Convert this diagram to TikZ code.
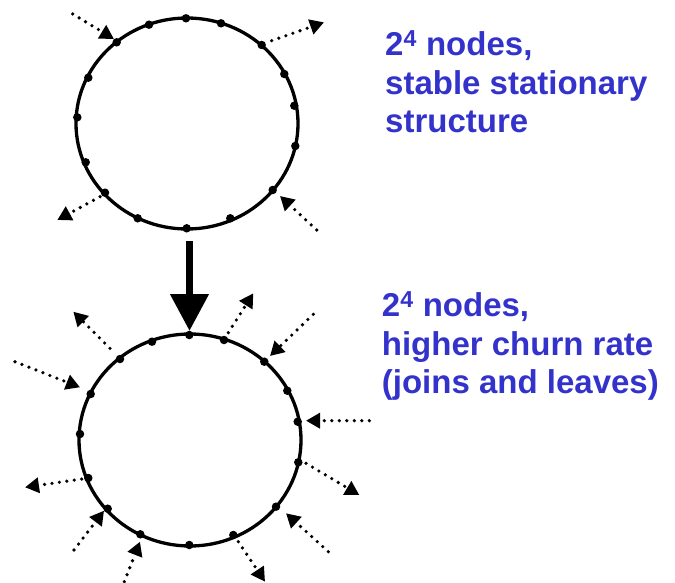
\documentclass[tikz,border=0pt]{standalone}
\usepackage{fontspec}
\setmainfont{Liberation Sans}
\usetikzlibrary{arrows.meta}
\definecolor{txtblue}{HTML}{3333CC}
\tikzset{
  ring/.style={line width=3.3pt},
  peer/.style={circle,fill=black,inner sep=0pt,minimum size=8.5pt},
  churn/.style={line width=3.6pt,line cap=round,dash pattern=on 0pt off 7.5pt,
    -{Triangle[length=14pt,width=15pt]}},
  bigarrow/.style={line width=7.6pt,-{Triangle[length=37pt,width=37pt]}},
  label/.style={anchor=base west,inner sep=0pt,text=txtblue,
    font=\fontsize{33}{38}\selectfont\bfseries}
}
\begin{document}
\begin{tikzpicture}[x=1pt,y=-1pt]
\useasboundingbox (0,0) rectangle (675,583);
% ---------- top ring ----------
\coordinate (ct) at (187,123.5);
\draw[ring] (ct) ellipse [x radius=111, y radius=105.5];
\foreach \n/\p in {1/{186,18.3},2/{221,23.3},3/{261.7,45},4/{284.3,74},
  5/{294.3,105.7},6/{295.3,146},7/{272.7,190},8/{230.3,218.3},
  9/{186.7,228.3},10/{137.7,218.3},11/{105,192.7},12/{85.7,162.3},
  13/{77.3,117.3},14/{88.3,77.7},15/{116.7,42.3},16/{149,24.7}}
  \node[peer] (t\n) at (\p) {};
% churn arrows, top ring
\coordinate (ta1) at (72.7,14);   \coordinate (ta1e) at (114,39);
\coordinate (ta2) at (271.7,40.7); \coordinate (ta2e) at (324,22.3);
\coordinate (ta3) at (100,196.7); \coordinate (ta3e) at (57.3,220);
\coordinate (ta4) at (316.7,230); \coordinate (ta4e) at (280,196);
\draw[churn] (ta1) -- (ta1e);
\draw[churn] (ta2) -- (ta2e);
\draw[churn] (ta3) -- (ta3e);
\draw[churn] (ta4) -- (ta4e);
% ---------- big arrow ----------
\coordinate (bs) at (189.5,241);
\coordinate (be) at (189.5,331);
\draw[bigarrow] (bs) -- (be);
% ---------- bottom ring ----------
\coordinate (cb) at (190,440);
\draw[ring] (cb) ellipse [x radius=111, y radius=106];
\foreach \n/\p in {1/{189.3,335},2/{224,340},3/{264.3,361.7},4/{287.3,390.7},
  5/{297.7,421.7},6/{298.3,462.3},7/{276,506.7},8/{233.3,535},
  9/{189.3,545},10/{140.3,534.3},11/{107.7,508.7},12/{88.3,478},
  13/{80,434},14/{90.7,394},15/{120,359},16/{152,341.7}}
  \node[peer] (b\n) at (\p) {};
% churn arrows, bottom ring
\coordinate (ba1) at (110,348.3);  \coordinate (ba1e) at (73.3,311.7);
\coordinate (ba2) at (15,361.7);   \coordinate (ba2e) at (80,387.3);
\coordinate (ba3) at (228.3,332.7); \coordinate (ba3e) at (253.3,293.3);
\coordinate (ba4) at (313.3,314.3); \coordinate (ba4e) at (270,356);
\coordinate (ba5) at (369.3,420.7); \coordinate (ba5e) at (306,420.7);
\coordinate (ba6) at (306,463.3);  \coordinate (ba6e) at (359.3,495);
\coordinate (ba7) at (328.3,551.7); \coordinate (ba7e) at (286,513.3);
\coordinate (ba8) at (238.3,541.7); \coordinate (ba8e) at (265,581.7);
\coordinate (ba9) at (124.3,581.7); \coordinate (ba9e) at (140,541.7);
\coordinate (ba10) at (74,550);    \coordinate (ba10e) at (104,510.7);
\coordinate (ba11) at (81.7,479);  \coordinate (ba11e) at (25,487.3);
\foreach \i in {1,...,11} \draw[churn] (ba\i) -- (ba\i e);
% ---------- labels ----------
\node[label] (l1) at (385,56) {2\textsuperscript{4} nodes,};
\node[label] (l2) at (385,94.5) {stable stationary};
\node[label] (l3) at (385,133) {structure};
\node[label] (m1) at (381.7,316.7) {2\textsuperscript{4} nodes,};
\node[label] (m2) at (381.7,355) {higher churn rate};
\node[label] (m3) at (381.7,393.3) {(joins and leaves)};
\end{tikzpicture}
\end{document}
